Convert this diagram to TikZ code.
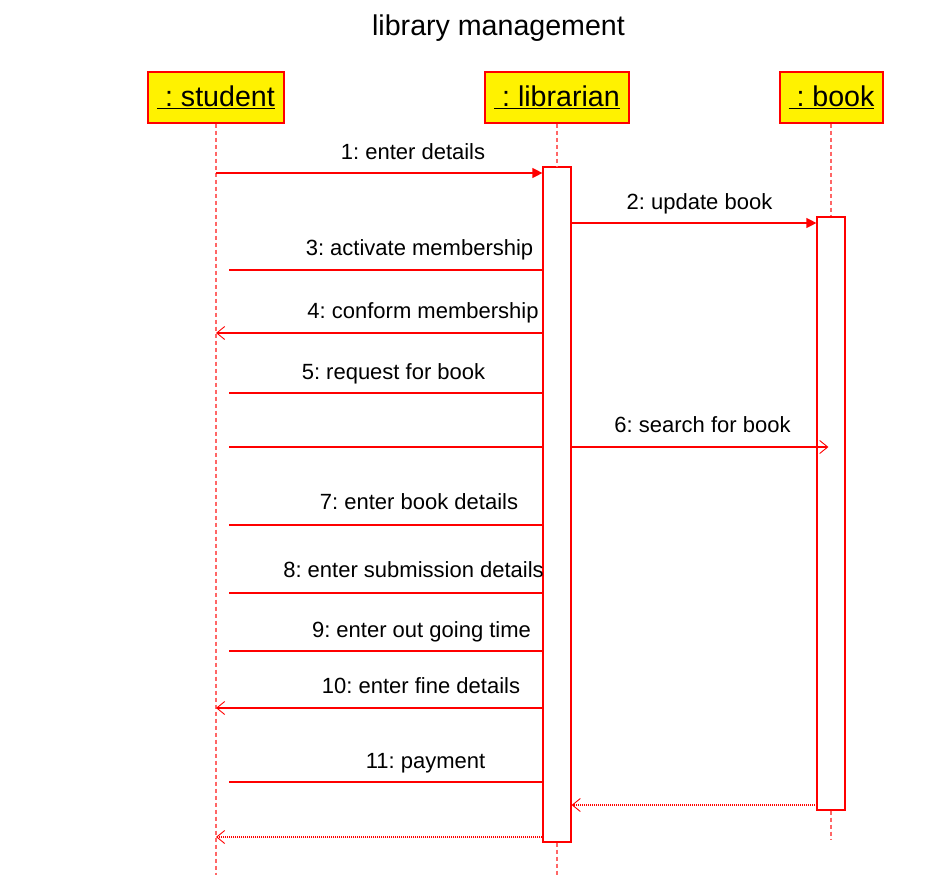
\documentclass[tikz,border=0pt]{standalone}
\usepackage{fontspec}
\setmainfont{Liberation Sans}
\usetikzlibrary{arrows.meta,positioning}
\frenchspacing

\begin{document}
\begin{tikzpicture}[x=1pt, y=-1pt,
  object/.style={rectangle, draw=red, fill=yellow, line width=1.2pt, minimum height=51pt, inner sep=0pt, font=\fontsize{28.6}{34}\selectfont},
  lifeline/.style={draw=red!60, dash pattern=on 4pt off 3pt, line width=1.2pt},
  activation/.style={rectangle, draw=red, fill=white, line width=1.2pt, minimum width=28pt, inner sep=0pt},
  msgline/.style={draw=red, line width=1.2pt},
  call/.style={msgline, -{Triangle[length=10pt,width=10pt]}},
  reply/.style={msgline, -{Straight Barb[length=8pt,width=13pt,line width=0.9pt]}},
  retline/.style={reply, dash pattern=on 1pt off 1pt},
  msg/.style={font=\fontsize{22}{26}\selectfont, anchor=base, inner sep=0pt}
]
\useasboundingbox (0,0) rectangle (942,878);

% Title
\node[font=\fontsize{28.6}{34}\selectfont, anchor=base] (title) at (498.5,35) {library management};

% Objects
\node[object, minimum width=136pt] (student) at (216,97.5) {\underline{\ :\ student}};
\node[object, minimum width=144pt] (librarian) at (557,97.5) {\underline{\ :\ librarian}};
\node[object, minimum width=103pt] (book) at (831.5,97.5) {\underline{\ :\ book}};

% Activations
\node[activation, minimum height=675pt] (lact) at (557,504.5) {};
\node[activation, minimum height=593pt] (bact) at (831,513.5) {};

% Lifelines
\coordinate (send) at (216,875);
\coordinate (lend) at (557,875);
\coordinate (bend) at (831,840);
\draw[lifeline] (student.south) -- (send);
\draw[lifeline] (librarian.south) -- (lact.north);
\draw[lifeline] (lact.south) -- (lend);
\draw[lifeline] (book.south -| bact.north) -- (bact.north);
\draw[lifeline] (bact.south) -- (bend);

% Message ends
\coordinate (m1) at (216,173);
\coordinate (m2) at (571,223);
\coordinate (m3) at (229,270);
\coordinate (m4) at (216,333);
\coordinate (m5) at (229,393);
\coordinate (m6) at (229,447);
\coordinate (m7) at (229,525);
\coordinate (m8) at (229,593);
\coordinate (m9) at (229,651);
\coordinate (m10) at (216,708);
\coordinate (m11) at (229,782);
\coordinate (m12) at (817,805);
\coordinate (m13) at (216,837);

% Messages
\draw[call] (m1) -- (lact.west |- m1);
\draw[call] (m2) -- (bact.west |- m2);
\draw[msgline] (m3) -- (lact.west |- m3);
\draw[reply] (lact.west |- m4) -- (m4);
\draw[msgline] (m5) -- (lact.west |- m5);
\draw[msgline] (m6) -- (lact.west |- m6);
\draw[reply] (lact.east |- m6) -- ([xshift=12pt]bact.west |- m6);
\draw[msgline] (m7) -- (lact.west |- m7);
\draw[msgline] (m8) -- (lact.west |- m8);
\draw[msgline] (m9) -- (lact.west |- m9);
\draw[reply] (lact.west |- m10) -- (m10);
\draw[msgline] (m11) -- (lact.west |- m11);
\draw[retline] (m12) -- (lact.east |- m12);
\draw[retline] (lact.west |- m13) -- (m13);

% Labels
\node[msg] (l1) at (413,159) {1: enter details};
\node[msg] (l2) at (699.5,209) {2: update book};
\node[msg] (l3) at (419.5,255) {3: activate membership};
\node[msg] (l4) at (423,318) {4: conform membership};
\node[msg] (l5) at (393.5,379) {5: request for book};
\node[msg] (l6) at (702.5,432) {6: search for book};
\node[msg] (l7) at (419,509) {7: enter book details};
\node[msg] (l8) at (413.5,577) {8: enter submission details};
\node[msg] (l9) at (421.5,637) {9: enter out going time};
\node[msg] (l10) at (421,693) {10: enter fine details};
\node[msg] (l11) at (425.5,768) {11: payment};

\end{tikzpicture}
\end{document}
